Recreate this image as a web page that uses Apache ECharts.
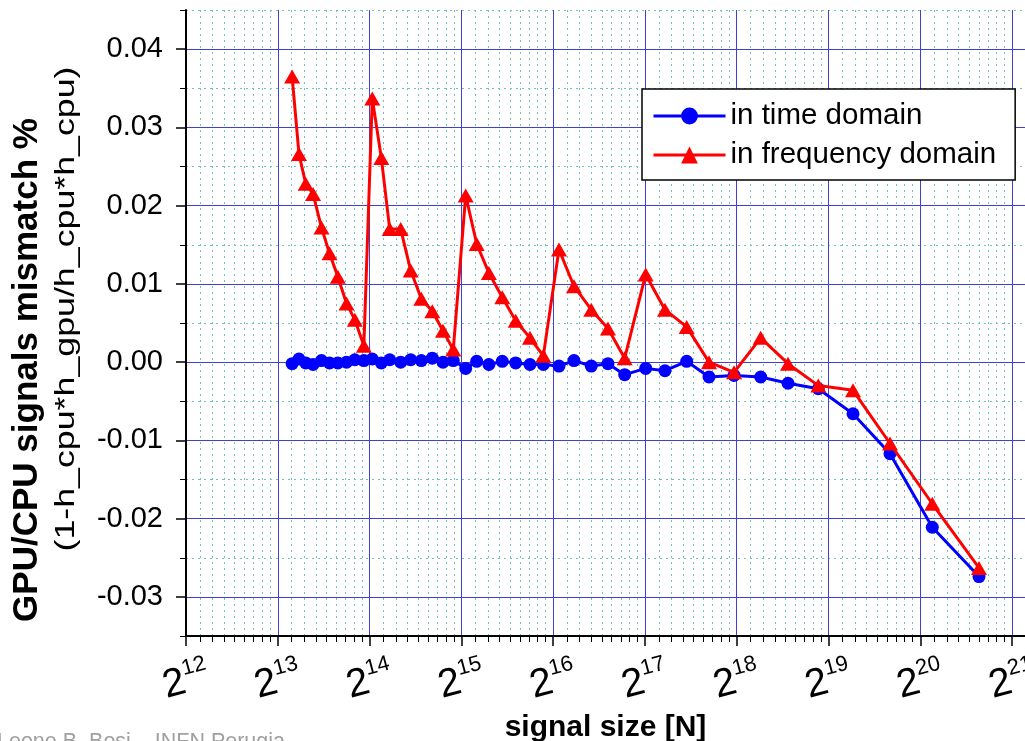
<!DOCTYPE html>
<html>
<head>
<meta charset="utf-8">
<script src="https://cdn.jsdelivr.net/npm/echarts@6/dist/echarts.min.js"></script>
<style>
  html, body { margin: 0; padding: 0; background: #ffffff; }
  #chart { width: 1025px; height: 741px; }
</style>
</head>
<body>
<div id="chart"></div>
<script>
// Signal sizes N (number of samples) of each test run
const signalSizes = [
  9128, 9614, 10115, 10694, 11394, 12107, 12892, 13767, 14663, 15694,
  16723, 17905, 19076, 20727, 22353, 24218, 26315, 28525, 30830,
  33859, 36796, 40344, 44633, 49391, 55022, 60853,
  68493, 76712, 87406, 99163, 112487,
  131833, 152490, 179663, 212694, 256956, 314190, 386222, 485490,
  630880, 834340, 1148300, 1633700
];

// GPU/CPU mismatch of the filtered signal, computed in time domain
const timeDomain = [
  -0.0002, 0.0004, -0.0001, -0.0003, 0.0002, -0.0001, -0.0001, 0.0000, 0.0003, 0.0002,
  0.0004, -0.0001, 0.0003, 0.0000, 0.0003, 0.0002, 0.0005, 0.0000, 0.0002,
  -0.0008, 0.0001, -0.0003, 0.0001, -0.0001, -0.0003, -0.0003,
  -0.0005, 0.0002, -0.0005, -0.0002, -0.0016,
  -0.0008, -0.0011, 0.0001, -0.0019, -0.0017, -0.0019, -0.0027, -0.0034,
  -0.0066, -0.0117, -0.0211, -0.0274
];

// GPU/CPU mismatch of the filtered signal, computed in frequency domain
const freqDomain = [
  0.0365, 0.0266, 0.0228, 0.0215, 0.0172, 0.0139, 0.0109, 0.0075, 0.0054, 0.0021,
  0.0337, 0.0261, 0.0170, 0.0170, 0.0117, 0.0081, 0.0065, 0.0040, 0.0016,
  0.0213, 0.0151, 0.0114, 0.0083, 0.0053, 0.0031, 0.0008,
  0.0144, 0.0097, 0.0067, 0.0043, 0.0005,
  0.0112, 0.0067, 0.0045, 0.0000, -0.0013, 0.0031, -0.0002, -0.0030,
  -0.0036, -0.0104, -0.0181, -0.0263
];

// Axis ticks: powers of two on x (exponents), mismatch values on y
const xTickExponents = [12, 13, 14, 15, 16, 17, 18, 19, 20, 21];
const yTickValues = [-0.03, -0.02, -0.01, 0.00, 0.01, 0.02, 0.03, 0.04];
const yMinorValues = [-0.035, -0.025, -0.015, -0.005, 0.005, 0.015, 0.025, 0.035, 0.045];

const seriesNames = ['in time domain', 'in frequency domain'];
const yTitle = 'GPU/CPU signals mismatch %';
const ySubtitle = '(1-h_cpu*h_gpu/h_cpu*h_cpu)';
const xTitle = 'signal size [N]';
const credit = 'Leone B. Bosi \u2013 INFN Perugia';

// x is plotted as log2(N); minor ticks at N = 2^k * (1 + i/9)
const xMin = 12, xMax = 21.141;
const xMinorValues = [];
for (let k = 12; k <= 21; k++) {
  for (let i = 1; i <= 8; i++) xMinorValues.push(k + Math.log2(1 + i / 9));
}

const toPoints = vals => signalSizes.map((n, i) => [Math.log2(n), vals[i]]);

const plain = '"Liberation Sans", Arial, sans-serif';
const majorGrid = '#4040d0';
const minorGrid = '#74bebe';

const chart = echarts.init(document.getElementById('chart'), null, { renderer: 'canvas' });

chart.setOption({
  animation: false,
  backgroundColor: '#ffffff',
  grid: { left: 186, right: 0, top: 10, bottom: 105, containLabel: false, outerBoundsMode: 'none' },
  legend: {
    left: 642, top: 89,
    orient: 'vertical',
    data: seriesNames,
    backgroundColor: '#ffffff',
    borderColor: '#000000',
    borderWidth: 1.5,
    borderRadius: 0,
    padding: [12, 19, 10, 10],
    itemGap: 9,
    itemWidth: 72,
    itemHeight: 21,
    lineStyle: { width: 3 },
    textStyle: { fontFamily: plain, fontSize: 29.5, color: '#000000' }
  },
  xAxis: [
    {
      type: 'value', min: xMin, max: xMax,
      position: 'bottom',
      axisLine: { show: true, onZero: false, lineStyle: { color: '#000000', width: 2 } },
      axisTick: { show: true, customValues: xTickExponents, length: 10, lineStyle: { color: '#000000', width: 1.5 } },
      axisLabel: {
        customValues: xTickExponents,
        margin: 21,
        rotate: 15,
        align: 'center',
        verticalAlign: 'top',
        padding: [0, 12, 0, 0],
        formatter: v => '{b|2}{s|' + v + '}',
        rich: {
          b: { fontFamily: plain, fontSize: 40, color: '#000000' },
          s: { fontFamily: plain, fontSize: 22, color: '#000000', padding: [0, 0, 25, 0] }
        }
      },
      splitLine: { show: true, lineStyle: { color: majorGrid, width: 1 } },
      name: xTitle,
      nameLocation: 'middle',
      nameGap: 66,
      nameTextStyle: { fontFamily: plain, fontWeight: 'bold', fontSize: 30, color: '#000000' }
    },
    {
      type: 'value', min: xMin, max: xMax,
      position: 'bottom',
      axisLine: { show: false, onZero: false },
      axisTick: { show: true, customValues: xMinorValues, length: 6, lineStyle: { color: '#000000', width: 1 } },
      axisLabel: { show: false },
      splitLine: { show: true, lineStyle: { color: minorGrid, width: 1, type: [2, 4] } }
    }
  ],
  yAxis: [
    {
      type: 'value', min: -0.035, max: 0.045,
      position: 'left',
      axisLine: { show: true, onZero: false, lineStyle: { color: '#000000', width: 2 } },
      axisTick: { show: true, customValues: yTickValues, length: 10, lineStyle: { color: '#000000', width: 1.5 } },
      axisLabel: {
        customValues: yTickValues,
        margin: 23,
        formatter: v => v.toFixed(2),
        fontFamily: plain, fontSize: 29, color: '#000000'
      },
      splitLine: { show: true, lineStyle: { color: majorGrid, width: 1 } },
      name: yTitle,
      nameLocation: 'middle',
      nameRotate: 90,
      nameGap: 141,
      nameTextStyle: { fontFamily: plain, fontWeight: 'bold', fontSize: 35, color: '#000000', padding: [0, 94, 0, 0] }
    },
    {
      type: 'value', min: -0.035, max: 0.045,
      position: 'left',
      axisLine: { show: false, onZero: false },
      axisTick: { show: true, customValues: yMinorValues, length: 6, lineStyle: { color: '#000000', width: 1 } },
      axisLabel: { show: false },
      splitLine: { show: true, lineStyle: { color: minorGrid, width: 1, type: [2, 4] } }
    }
  ],
  series: [
    {
      name: seriesNames[0],
      type: 'line',
      xAxisIndex: 0, yAxisIndex: 0,
      data: toPoints(timeDomain),
      symbol: 'circle',
      symbolSize: 13,
      z: 3,
      itemStyle: { color: '#0000ff' },
      lineStyle: { color: '#0000ff', width: 3 }
    },
    {
      name: seriesNames[1],
      type: 'line',
      xAxisIndex: 0, yAxisIndex: 0,
      data: toPoints(freqDomain),
      symbol: 'triangle',
      symbolSize: [16, 14],
      z: 4,
      itemStyle: { color: '#ff0000' },
      lineStyle: { color: '#ff0000', width: 3 }
    }
  ],
  graphic: [
    {
      // second line of the y-axis title, stretched along its reading direction
      type: 'text', x: 66, y: 309, rotation: Math.PI / 2, scaleX: 1.3, silent: true,
      style: { text: ySubtitle, fontFamily: plain, fontSize: 27.5, fill: '#000000', align: 'center', verticalAlign: 'middle' }
    },
    {
      type: 'text', left: -3, top: 731, silent: true,
      style: { text: credit, fontFamily: plain, fontSize: 21.5, fill: '#a0a0a0' }
    }
  ]
});
</script>
</body>
</html>
